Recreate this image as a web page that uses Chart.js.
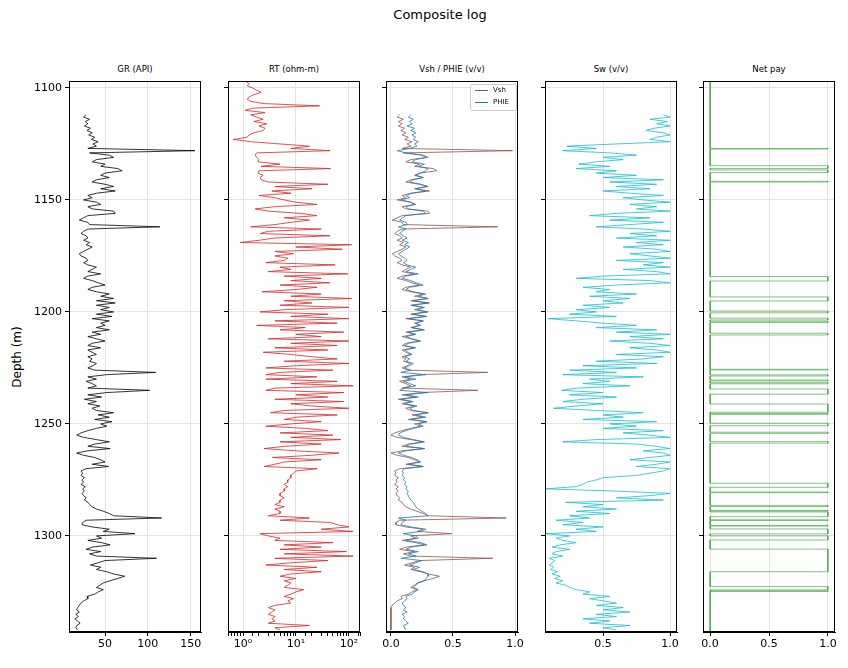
<!DOCTYPE html>
<html><head><meta charset="utf-8">
<script src="https://cdn.jsdelivr.net/npm/chart.js@4.4.1/dist/chart.umd.min.js"></script>
<style>
body{margin:0;background:#fff;width:848px;height:668px;position:relative;overflow:hidden;font-family:"DejaVu Sans",sans-serif;}
.box{position:absolute;}
.t{position:absolute;color:#000;white-space:nowrap;}
</style></head><body>
<div class="t" style="left:0;width:880px;top:7px;text-align:center;font-size:13px;">Composite log</div>
<div class="t" style="left:69px;width:132px;top:64px;text-align:center;font-size:8.5px;">GR (API)</div>
<div class="t" style="left:228px;width:132px;top:64px;text-align:center;font-size:8.5px;">RT (ohm-m)</div>
<div class="t" style="left:386px;width:132px;top:64px;text-align:center;font-size:8.5px;">Vsh / PHIE (v/v)</div>
<div class="t" style="left:545px;width:132px;top:64px;text-align:center;font-size:8.5px;">Sw (v/v)</div>
<div class="t" style="left:703px;width:132px;top:64px;text-align:center;font-size:8.5px;">Net pay</div>
<div class="t" style="left:-18px;top:350px;width:70px;text-align:center;font-size:12px;transform:rotate(-90deg);">Depth (m)</div>
<div class="box" id="b0"><canvas id="c0"></canvas></div>
<div class="box" id="b1"><canvas id="c1"></canvas></div>
<div class="box" id="b2"><canvas id="c2"></canvas></div>
<div class="box" id="b3"><canvas id="c3"></canvas></div>
<div class="box" id="b4"><canvas id="c4"></canvas></div>
<div class="t" style="left:470px;top:84px;width:45px;height:25px;border:1px solid #ccc;border-radius:2px;background:rgba(255,255,255,0.85);font-size:7px;">
<div style="position:absolute;left:4px;top:5px;width:13px;border-top:1px solid #8c564b;"></div><div style="position:absolute;left:22px;top:1px;">Vsh</div>
<div style="position:absolute;left:4px;top:17px;width:13px;border-top:1px solid #1f77b4;"></div><div style="position:absolute;left:22px;top:13px;">PHIE</div>
</div>
<script>
const logStart = 1112; // depth of first GR/Vsh/PHIE/Sw sample (m), 1 m step
const rtStart = 1097;  // depth of first RT sample (m), 1 m step
const gr = [28,25,32,27,30,26,33,29,35,31, 38,34,42,36,40,30,155,32,55,60, 40,35,50,45,65,70,50,45,55,40,
35,50,60,45,62,40,30,35,25,40, 45,30,35,60,62,30,25,20,30,32, 114,30,25,22,28,30,25,32,28,35,
30,25,20,22,28,30,25,30,40,35, 30,45,30,25,35,42,50,35,30,40, 55,45,60,40,62,40,55,45,60,40,
58,35,55,45,50,40,55,35,45,30, 40,50,35,30,45,30,35,40,30,35, 32,40,36,30,38,109,52,30,40,28,
35,40,30,102,52,30,46,26,40,30, 44,35,40,60,42,55,38,58,45,52, 40,30,22,17,25,40,55,38,30,56,
30,17,25,38,45,50,35,54,28,22, 24,22,26,23,25,22,27,24,26,23, 25,28,26,30,32,35,40,48,55,60,
116,28,24,23,35,55,48,85,40,46, 30,46,56,35,28,45,32,40,110,50, 42,33,45,40,52,60,73,65,56,48,
44,40,48,42,38,29,30,25,22,20, 18,17,20,16,19,15,18,21,17,16, 18];
const vsh = [.07,.05,.1,.06,.09,.06,.11,.08,.12,.09, .14,.11,.17,.13,.16,.09,.98,.1,.26,.3, .16,.12,.23,.19,.34,.37,.23,.19,.26,.16,
.12,.23,.3,.19,.31,.16,.09,.12,.05,.16, .19,.09,.12,.3,.31,.09,.05,.01,.09,.1, .86,.09,.05,.03,.07,.09,.05,.1,.07,.12,
.09,.05,.01,.03,.07,.09,.05,.09,.16,.12, .09,.19,.09,.05,.12,.17,.23,.12,.09,.16, .26,.19,.3,.16,.31,.16,.26,.19,.3,.16,
.29,.12,.26,.19,.23,.16,.26,.12,.19,.09, .16,.23,.12,.09,.19,.09,.12,.16,.09,.12, .1,.16,.13,.09,.14,.78,.24,.09,.16,.07,
.12,.16,.09,.7,.24,.09,.2,.06,.16,.09, .19,.12,.16,.3,.17,.26,.14,.29,.19,.24, .16,.09,.03,0,.05,.16,.26,.14,.09,.27,
.09,0,.05,.14,.19,.23,.12,.26,.07,.03, .04,.03,.06,.04,.05,.03,.06,.04,.06,.04, .05,.07,.06,.09,.1,.12,.16,.21,.26,.3,
.93,.07,.04,.04,.12,.26,.21,.49,.16,.2, .09,.2,.27,.12,.07,.19,.1,.16,.82,.23, .17,.11,.19,.16,.24,.3,.39,.34,.27,.21,
.19,.16,.21,.17,.14,.08,.09,.05,.03,.01, 0,0,0,0,0,0,0,0,0,0, 0];
const phie = [.16,.14,.18,.15,.17,.13,.19,.16,.2,.17, .2,.18,.22,.19,.21,.15,.05,.12,.25,.28, .2,.17,.27,.22,.3,.28,.24,.2,.26,.18,
.15,.24,.29,.2,.28,.17,.12,.15,.08,.16, .2,.12,.14,.26,.28,.12,.09,.07,.12,.13, .06,.12,.09,.07,.1,.13,.09,.14,.11,.15,
.12,.09,.06,.08,.11,.13,.1,.13,.2,.16, .12,.22,.12,.09,.16,.2,.26,.15,.12,.18, .28,.22,.3,.18,.3,.17,.27,.21,.29,.17,
.28,.14,.26,.2,.24,.17,.27,.14,.2,.12, .17,.24,.14,.11,.2,.11,.14,.17,.11,.15, .12,.18,.15,.11,.16,.08,.28,.11,.2,.1,
.15,.2,.11,.07,.3,.12,.22,.08,.18,.11, .21,.15,.18,.3,.2,.28,.16,.29,.22,.26, .18,.12,.07,.06,.1,.18,.27,.16,.12,.27,
.12,.06,.1,.17,.21,.24,.14,.26,.11,.09, .1,.09,.11,.1,.12,.11,.13,.12,.14,.13, .14,.15,.16,.18,.19,.2,.22,.25,.28,.3,
.06,.12,.09,.08,.16,.28,.24,.1,.2,.22, .12,.24,.29,.16,.12,.22,.14,.2,.08,.25, .2,.15,.23,.18,.26,.3,.3,.28,.27,.22,
.2,.18,.22,.19,.17,.12,.13,.11,.09,.1, .12,.1,.13,.09,.11,.1,.12,.14,.1,.11, .12];
const sw = [.95,1.0,.85,.98,.9,1.0,.88,.82,.95,1.0, .9,.85,1.0,.6,.23,.45,.2,.55,.75,.5, .65,.45,.32,.55,.3,.6,.45,.75,.5,.95,
.55,.9,.6,.85,.5,.7,.95,.65,.8,1.0, .7,.9,.75,1.0,.6,.4,.85,.55,.95,.7, .45,.8,1.0,.7,.9,.6,1.0,.75,.95,.65,
.9,1.0,.7,.85,1.0,.6,.95,.8,1.0,.65, .9,1.0,.5,.3,.85,1.0,.6,.35,.55,.45, .75,.4,.7,.5,.65,.35,.55,.3,.45,.25,
.6,.09,.3,.5,.75,.45,.9,.6,1.0,.7, .95,.55,.85,1.0,.7,.9,1.0,.6,.95,.8, .45,.9,.35,.75,.25,.6,.2,.8,.4,.55,
.35,.7,.3,.19,.5,.25,.6,.35,.2,.5, .3,.13,.45,.8,.5,.65,.35,.9,.55,.75, .5,.95,.65,.85,1.0,.45,.2,.75,.9,1.0,
.8,.95,1.0,.85,.7,1.0,.9,.75,1.0,.95, .85,.75,.5,.45,.38,.35,.3,.07,.6,1.0, .85,.6,.95,.22,.5,.35,.6,.3,.55,.25,
.4,.15,.35,.2,.5,.3,.45,.07,.25,.15, .2,.3,.18,.12,.25,.15,.12,.2,.1,.14, .12,.1,.13,.11,.16,.12,.18,.14,.2,.15,
.22,.25,.3,.4,.35,.55,.4,.5,.6,.45, .65,.5,.7,.45,.6,.35,.55,.4,.7,.5, .6];
const rt = [1.1,1.3,1.2,1.5,1.8,2.2,1.6,1.3,1.2,1.4, 2.5,28,1.5,1.1,2.6,1.4,1.8,2.4,1.6,2.8, 2.0,2.6,2.4,1.6,1.3,1.2,0.65,1.4,5,18,
8,44,1.8,1.7,1.8,2.0,1.9,5,2.2,45, 2.0,1.9,2.4,2.1,2.2,3,40,4,20,3.5, 8,2.0,4,6,10,25,4,1.7,3,12,
25,6,18,8,4,1.4,30,3,2.1,44, 4,2,0.88,112,10,75,4,9,4,7, 6,2.7,55,5,8,3,95,6,30,8,
44,5,25,10,2.3,30,8,112,6,20, 5,100,6,2.1,40,8,100,4,60,1.8, 15,5,80,10,30,3,100,8,60,4,
40,2.4,8,20,60,6,100,10,2.7,50, 5,2.7,25,2.7,60,8,120,4,2.7,80, 10,40,4,80,8,20,100,6,3.3,60,
10,6,30,8,2.7,15,40,5,50,8, 70,5,30,6,2.5,10,65,20,3.6,30, 6,4,2.5,25,10,9,8,8,7,7,
6,7,6,6,5,5,6,5,5,4, 6,4,5,5,3,18,5,45,60,100, 30,120,2.1,3,5,4,50,6,30,5,
90,6,120,4,40,8,2.7,25,6,30, 8,5,10,6,8,7,6,14,10,8, 6,9,7,8,4,3,4,3.5,3,4, 3.5,4,3,18,4,5];
const payTops  = [1127.0,1134.7,1136.6,1141.7,1184.2,1193.3,1199.6,1202.8,1204.2,1209.5,1225.6,1228.1,1230.4,1231.6,1234.4,1241.1,1245.4,1249.7,1253.7,1257.9,1276.5,1280.4,1286.4,1288.6,1289.3,1292.8,1295.3,1296.9,1300.0,1305.9,1322.6,1324.5];
const payBases = [1127.3,1136.0,1137.8,1142.0,1186.2,1195.1,1200.4,1203.6,1204.7,1210.3,1225.9,1228.6,1230.8,1232.1,1236.7,1244.8,1245.7,1250.8,1254.2,1258.6,1278.3,1280.7,1286.9,1288.9,1291.4,1293.1,1295.6,1299.1,1301.8,1316.0,1324.1,1324.8];
const depthTop = 1096.9, depthBase = 1342.9;
const yTickLabels = [1100,1150,1200,1250,1300];

function pts(arr, start){ return arr.map((v,i)=>({x:v, y:start+i})); }
const payPts = [{x:0,y:depthTop}];
payTops.forEach((t,i)=>{ payPts.push({x:0,y:t},{x:1,y:t},{x:1,y:payBases[i]},{x:0,y:payBases[i]}); });
payPts.push({x:0,y:depthBase});

const lefts=[69,228,386,545,703], PW=132;
const frame={id:'frame',afterDraw(c){const a=c.chartArea,x=c.ctx;x.save();x.strokeStyle='#000';x.lineWidth=1;x.strokeRect(Math.round(a.left)+0.5,Math.round(a.top)+0.5,Math.round(a.right-a.left)-1,Math.round(a.bottom-a.top)-1);x.restore();}};
const FONT={family:'DejaVu Sans',size:11};
Chart.defaults.color='#000';
Chart.defaults.animation=false;

function mk(i, datasets, xscale){
  const yw = i===0?69:20;
  const b=document.getElementById('b'+i);
  const W=yw+PW+15, H=10+551+28;
  b.style.left=(lefts[i]-yw)+'px'; b.style.top='71px'; b.style.width=W+'px'; b.style.height=H+'px';
  new Chart(document.getElementById('c'+i),{
    type:'scatter',
    data:{datasets:datasets.map(d=>Object.assign({showLine:true,pointRadius:0,borderWidth:0.8,tension:0,fill:false},d))},
    options:{responsive:true,maintainAspectRatio:false,animation:false,
      layout:{padding:{top:10,right:15,left:0,bottom:0}},
      plugins:{legend:{display:false},tooltip:{enabled:false}},
      scales:{
        x:Object.assign({position:'bottom',
          afterFit(s){s.height=28;},
          border:{display:true,color:'#000'},
          grid:{color:'#e3e3e3',tickColor:'#000',tickLength:4},
          ticks:{font:FONT,padding:2,maxRotation:0,includeBounds:false}},xscale),
        y:{type:'linear',reverse:true,min:depthTop,max:depthBase,
          afterFit(s){s.width=yw;},
          afterBuildTicks(s){s.ticks=yTickLabels.map(v=>({value:v}));},
          border:{display:true,color:'#000'},
          grid:{color:'#e3e3e3',tickColor:'#000',tickLength:4},
          ticks:{font:FONT,padding:3,includeBounds:false,callback:(v)=> i===0?String(v):''}}
      }},
    plugins:[frame]
  });
}
mk(0,[{data:pts(gr,logStart),borderColor:'#000'}],
  {type:'linear',min:8,max:162,ticks:{font:FONT,padding:2,includeBounds:false,stepSize:50}});
mk(1,[{data:pts(rt,rtStart),borderColor:'#d62728'}],
  {type:'logarithmic',min:0.52,max:162,
   grid:{tickColor:'#000',tickLength:4,color:(c)=>{const v=c.tick&&c.tick.value;return (v===1||v===10||v===100)?'#e3e3e3':'rgba(0,0,0,0)';}},
   ticks:{font:FONT,padding:2,includeBounds:false,autoSkip:false,maxRotation:0,
     callback:(v)=> v===1?'10\u2070':v===10?'10\u00b9':v===100?'10\u00b2':''}});
mk(2,[{data:pts(vsh,logStart),borderColor:'#8c564b',order:1},{data:pts(phie,logStart),borderColor:'#1f77b4',order:0}],
  {type:'linear',min:-0.04,max:1.024,ticks:{font:FONT,padding:2,includeBounds:false,stepSize:0.5,callback:v=>v.toFixed(1)}});
mk(3,[{data:pts(sw,logStart),borderColor:'#17becf'}],
  {type:'linear',min:0.067,max:1.052,ticks:{font:FONT,padding:2,includeBounds:false,stepSize:0.5,callback:v=>v.toFixed(1)}});
mk(4,[{data:payPts,borderColor:'rgba(44,160,44,0.75)'}],
  {type:'linear',min:-0.06,max:1.06,ticks:{font:FONT,padding:2,includeBounds:false,stepSize:0.5,callback:v=>v.toFixed(1)}});
</script>
</body></html>
